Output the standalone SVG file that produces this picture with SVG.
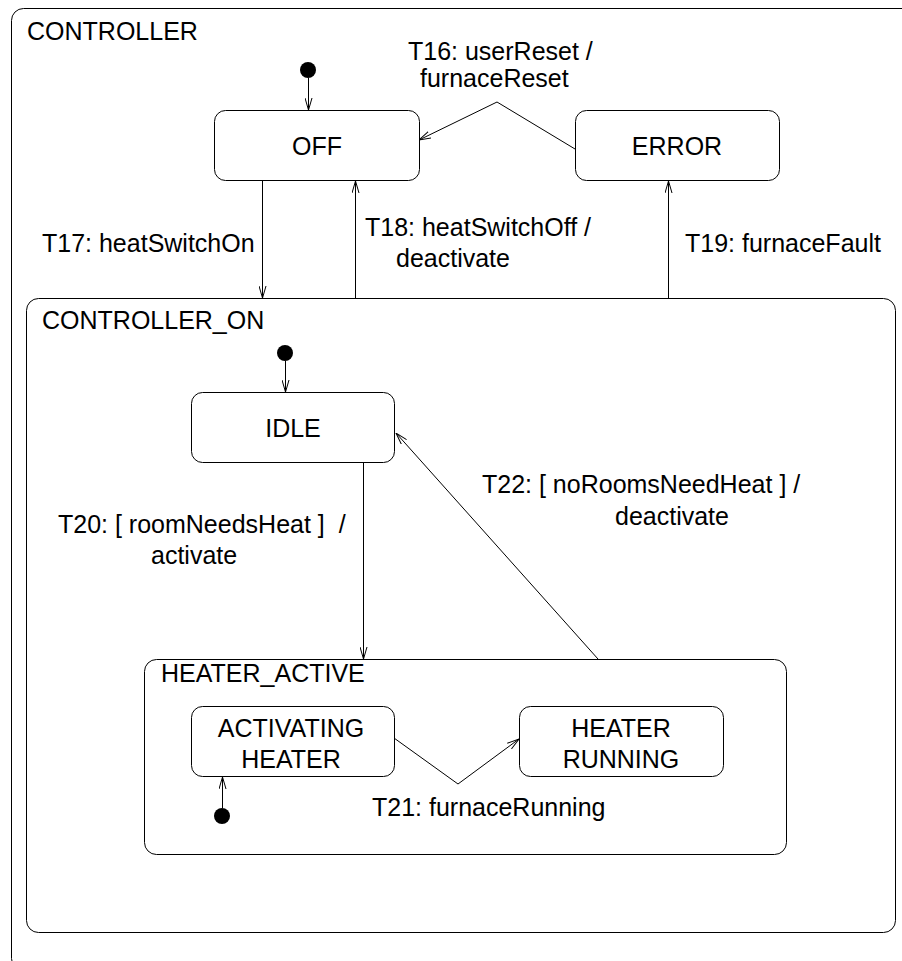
<svg xmlns="http://www.w3.org/2000/svg" width="902" height="961" viewBox="0 0 902 961">
  <style>
    .state { fill: #fff; stroke: #000; stroke-width: 1; }
    .region { fill: none; stroke: #000; stroke-width: 1; }
    .init { fill: #000; }
    .edge { fill: none; stroke: #000; stroke-width: 1; }
    text { font-family: "Liberation Sans", Arial, Helvetica, sans-serif; font-size: 25px; fill: #000; }
    .mid { text-anchor: middle; }
  </style>
  <defs>
    <marker id="open-arrow" viewBox="0 0 12 8" refX="12" refY="4" markerWidth="12" markerHeight="8" markerUnits="userSpaceOnUse" orient="auto">
      <path d="M0,0.5 L12,4 L0,7.5" fill="none" stroke="#000" stroke-width="1"/>
    </marker>
  </defs>
  <rect width="902" height="961" fill="#fff"/>

  <!-- composite states -->
  <g id="controller">
    <rect class="region" x="11.5" y="8.5" width="920" height="962" rx="12" ry="12"/>
    <text x="27" y="40">CONTROLLER</text>
  </g>
  <g id="controller-on">
    <rect class="region" x="26.5" y="298.5" width="869" height="634" rx="12" ry="12"/>
    <text x="42" y="329">CONTROLLER_ON</text>
  </g>
  <g id="heater-active">
    <rect class="region" x="144.5" y="659.5" width="642" height="195" rx="12" ry="12"/>
    <text x="161" y="682">HEATER_ACTIVE</text>
  </g>

  <!-- simple states -->
  <g id="off">
    <rect class="state" x="214.5" y="110.5" width="205" height="70" rx="11" ry="11"/>
    <text class="mid" x="317" y="155">OFF</text>
  </g>
  <g id="error">
    <rect class="state" x="575.5" y="110.5" width="204" height="70" rx="11" ry="11"/>
    <text class="mid" x="677" y="155">ERROR</text>
  </g>
  <g id="idle">
    <rect class="state" x="191.5" y="392.5" width="203" height="70" rx="11" ry="11"/>
    <text class="mid" x="293" y="437">IDLE</text>
  </g>
  <g id="activating-heater">
    <rect class="state" x="191.5" y="706.5" width="203" height="70" rx="11" ry="11"/>
    <text class="mid" x="291" y="737">ACTIVATING</text>
    <text class="mid" x="291" y="768">HEATER</text>
  </g>
  <g id="heater-running">
    <rect class="state" x="519.5" y="706.5" width="204" height="70" rx="11" ry="11"/>
    <text class="mid" x="621" y="737">HEATER</text>
    <text class="mid" x="621" y="768">RUNNING</text>
  </g>

  <!-- initial pseudostates -->
  <g id="init-controller"><circle class="init" cx="308" cy="70" r="8"/></g>
  <g id="init-controller-on"><circle class="init" cx="285" cy="353" r="8"/></g>
  <g id="init-heater-active"><circle class="init" cx="222" cy="816" r="8"/></g>

  <!-- transitions -->
  <g id="connectors">
    <path class="edge" d="M308.5,78 L308.5,110" marker-end="url(#open-arrow)"/>
    <path class="edge" d="M285.5,361 L285.5,392" marker-end="url(#open-arrow)"/>
    <path class="edge" d="M222.5,808 L222.5,777" marker-end="url(#open-arrow)"/>

    <path class="edge" d="M575,149 L497,102 L419,140" marker-end="url(#open-arrow)"/>
    <path class="edge" d="M262.5,181 L262.5,298" marker-end="url(#open-arrow)"/>
    <path class="edge" d="M355.5,298 L355.5,181" marker-end="url(#open-arrow)"/>
    <path class="edge" d="M668.5,298 L668.5,181" marker-end="url(#open-arrow)"/>
    <path class="edge" d="M363.5,463 L363.5,659" marker-end="url(#open-arrow)"/>
    <path class="edge" d="M598,659 L396,433" marker-end="url(#open-arrow)"/>
    <path class="edge" d="M394,738 L458,784 L519,739" marker-end="url(#open-arrow)"/>

    <text x="408" y="60">T16: userReset /</text>
    <text x="420" y="87">furnaceReset</text>
    <text x="42" y="252">T17: heatSwitchOn</text>
    <text x="365" y="236">T18: heatSwitchOff /</text>
    <text x="396" y="267">deactivate</text>
    <text x="685" y="252">T19: furnaceFault</text>
    <text x="58" y="533" xml:space="preserve">T20: [ roomNeedsHeat ]  /</text>
    <text x="151" y="564">activate</text>
    <text x="482" y="493">T22: [ noRoomsNeedHeat ] /</text>
    <text x="615" y="525">deactivate</text>
    <text x="372" y="816">T21: furnaceRunning</text>
  </g>
</svg>
